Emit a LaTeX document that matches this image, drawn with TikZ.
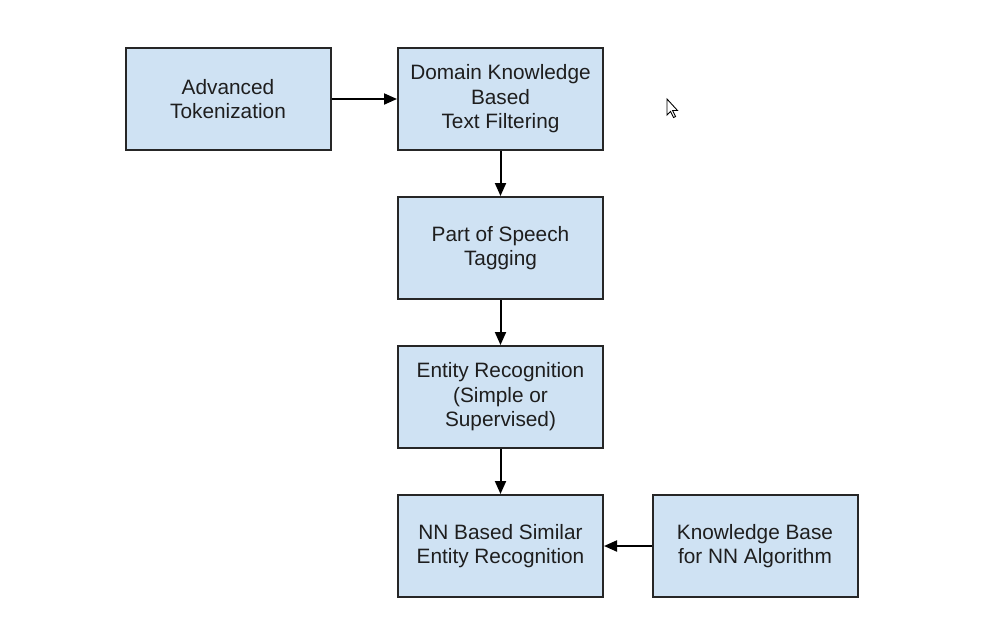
\documentclass[tikz,border=0pt]{standalone}
\usepackage{fontspec}
\setmainfont{Liberation Sans}
\usetikzlibrary{arrows.meta}
\definecolor{boxfill}{HTML}{CFE2F3}
\definecolor{boxline}{HTML}{262626}
\definecolor{txt}{HTML}{1E1E1E}
\begin{document}
\begin{tikzpicture}[x=1pt,y=-1pt,
  stepbox/.style={draw=boxline,line width=2pt,fill=boxfill,minimum width=205pt,minimum height=102pt,
    inner sep=0pt,align=center,text=txt,font=\fontsize{20.8pt}{24.5pt}\selectfont},
  conn/.style={line width=2pt,draw=black,-{Triangle[length=13pt,width=11pt]}}]
\useasboundingbox[fill=white] (0,0) rectangle (1004,622);
\node[stepbox] (a) at (228,99) {Advanced\\Tokenization};
\node[stepbox] (b) at (500.5,99) {Domain Knowledge\\Based\\Text Filtering};
\node[stepbox] (c) at (500.5,248) {Part of Speech\\Tagging};
\node[stepbox] (d) at (500.5,397) {Entity Recognition\\(Simple or\\Supervised)};
\node[stepbox] (e) at (500.5,546) {NN Based Similar\\Entity Recognition};
\node[stepbox] (f) at (755,546) {Knowledge Base\\for NN Algorithm};
\draw[conn] (a) -- (b);
\draw[conn] (b) -- (c);
\draw[conn] (c) -- (d);
\draw[conn] (d) -- (e);
\draw[conn] (f) -- (e);
% mouse cursor
\draw[fill=white,line width=0.9pt,line join=miter] (667,99) -- (667,115) -- (670.5,111.5) -- (673.5,117.5) -- (675.5,116.5) -- (672.5,110.5) -- (677.5,110.5) -- cycle;
\end{tikzpicture}
\end{document}
